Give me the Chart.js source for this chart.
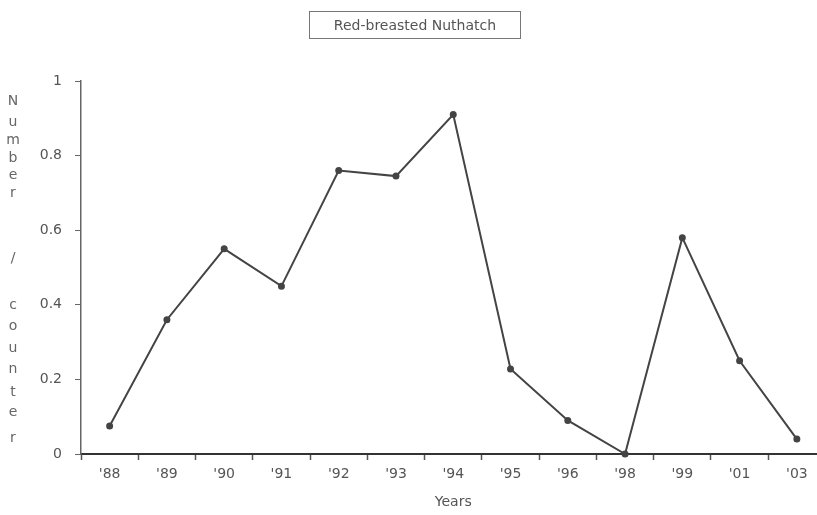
<!DOCTYPE html>
<html>
<head>
<meta charset="utf-8">
<script src="https://cdn.jsdelivr.net/npm/chart.js@4"></script>
<style>
  html, body { margin: 0; padding: 0; background: #fff; overflow: hidden; }
  #wrap { position: relative; width: 830px; height: 515px; }
  #title {
    position: absolute; left: 309px; top: 11px; width: 212px; height: 28px;
    border: 1px solid #777; box-sizing: border-box;
    font: 14px "DejaVu Sans", sans-serif; color: #555;
    text-align: center; line-height: 26px;
  }
  .ylab { position: absolute; width: 20px; left: 3px; text-align: center;
    font: 14px "DejaVu Sans", sans-serif; color: #666; }
</style>
</head>
<body>
<div id="wrap">
  <canvas id="chart" width="830" height="515"></canvas>
  <div id="title">Red-breasted Nuthatch</div>
</div>
<script>
const years = ["'88", "'89", "'90", "'91", "'92", "'93", "'94", "'95", "'96", "'98", "'99", "'01", "'03"];
const counts = [0.075, 0.36, 0.55, 0.45, 0.76, 0.745, 0.91, 0.228, 0.09, 0, 0.58, 0.25, 0.04];
const yTickLabels = ["0", "0.2", "0.4", "0.6", "0.8", "1"];
const yLabelChars = ["N", "u", "m", "b", "e", "r", "/", "c", "o", "u", "n", "t", "e", "r"];
const yLabelTops = [92, 113, 131, 149, 166, 184, 249, 296, 317, 339, 360, 383, 403, 429];

// vertical stacked "Number / counter"
const wrap = document.getElementById("wrap");
yLabelChars.forEach((ch, i) => {
  const d = document.createElement("div");
  d.className = "ylab";
  d.style.top = yLabelTops[i] + "px";
  d.textContent = ch;
  wrap.appendChild(d);
});

const grey = "#555";
const font = { family: "DejaVu Sans", size: 14 };

new Chart(document.getElementById("chart"), {
  type: "line",
  data: {
    labels: years,
    datasets: [{
      data: counts,
      borderColor: "#444",
      borderWidth: 2,
      backgroundColor: "#444",
      pointRadius: 2.5,
      pointHoverRadius: 2.5,
      tension: 0,
      clip: false
    }]
  },
  options: {
    responsive: false,
    animation: false,
    layout: { padding: { top: 81, right: 2, left: 0, bottom: 0 } },
    plugins: { legend: { display: false }, tooltip: { enabled: false } },
    scales: {
      x: {
        offset: true,
        grid: { offset: true, drawOnChartArea: false, tickLength: 6, tickColor: "#555", tickWidth: 1.5 },
        border: { color: "#333", width: 2 },
        ticks: { color: grey, font: font, padding: 6, maxRotation: 0 },
        title: { display: true, text: "Years", color: grey, font: font, padding: { top: 0 } },
        afterFit: (s) => { s.height = 61; }
      },
      y: {
        min: 0,
        max: 1,
        grid: { drawOnChartArea: false, tickLength: 6, tickColor: "#666" },
        border: { color: "#666", width: 1.5 },
        ticks: {
          stepSize: 0.2, color: grey, font: font, padding: 13,
          callback: (v, i) => yTickLabels[i]
        },
        afterFit: (s) => { s.width = 81; }
      }
    }
  }
});
</script>
</body>
</html>
